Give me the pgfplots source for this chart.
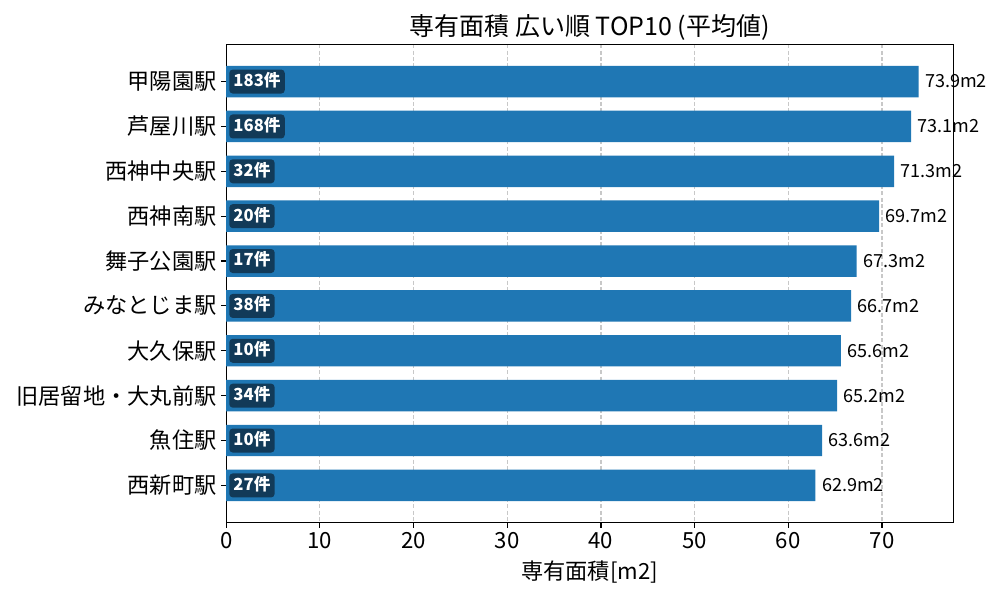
\documentclass[border=0pt]{standalone}
\usepackage{fontspec}
\setmainfont{Noto Sans CJK JP}
\usepackage{pgfplots}
\usepackage{pgfplotstable}
\pgfplotsset{compat=1.18}
\definecolor{barblue}{RGB}{31,119,180}
\definecolor{badgecol}{RGB}{18,58,88}
\definecolor{gridgray}{RGB}{200,200,200}
\pgfplotstableread{
y val cnt
0 73.9 183
1 73.1 168
2 71.3 32
3 69.7 20
4 67.3 17
5 66.7 38
6 65.6 10
7 65.2 34
8 63.6 10
9 62.9 27
}\data
\begin{document}
\begin{tikzpicture}
\useasboundingbox (0,0) rectangle (720pt,432pt);
\begin{axis}[
  at={(162.9pt,55.7pt)}, anchor=south west,
  scale only axis, width=523.4pt, height=344.4pt,
  xmin=0, xmax=77.6,
  ymin=-0.83, ymax=9.83, y dir=reverse,
  ytick={0,...,9},
  yticklabels={甲陽園駅,芦屋川駅,西神中央駅,西神南駅,舞子公園駅,みなとじま駅,大久保駅,旧居留地・大丸前駅,魚住駅,西新町駅},
  xtick={0,10,...,70},
  tick align=outside, major tick length=3.5pt,
  xtick pos=bottom, ytick pos=left,
  every tick/.style={black, line width=0.8pt},
  axis line style={line width=0.8pt},
  xmajorgrids, ymajorgrids=false,
  major grid style={gridgray, line width=0.8pt, dash pattern=on 3pt off 1.6pt},
  /pgf/number format/assume math mode=true,
  xticklabel style={font=\fontsize{16}{18}\selectfont},
  yticklabel style={font=\fontsize{16}{18}\selectfont},
  title={専有面積 広い順 TOP10 (平均値)},
  title style={font=\fontsize{18}{21}\selectfont, at={(0.5,1)}, anchor=base, yshift=0.5pt},
  xlabel={専有面積[m2]},
  xlabel style={font=\fontsize{16}{18}\selectfont, at={(0.5,0)}, anchor=base, yshift=-41pt},
  clip=false,
]
\addplot[xbar, bar width=0.7, fill=barblue, draw=none,
  point meta=x,
  nodes near coords={\pgfmathprintnumber[fixed,fixed zerofill,precision=1]{\pgfplotspointmeta}m2},
  every node near coord/.append style={anchor=west, inner sep=0pt, xshift=4.5pt, font=\fontsize{13}{15}\selectfont, black},
] table[x=val, y=y] {\data};
\addplot[draw=none, mark=none,
  point meta=explicit symbolic,
  nodes near coords={\pgfplotspointmeta 件},
  every node near coord/.append style={anchor=west, xshift=2pt, fill=badgecol, text=white, rounded corners=2.5pt,
    inner xsep=3pt, inner ysep=0pt, text height=8.5pt, text depth=1.5pt, minimum height=17.3pt,
    font=\fontsize{12}{14}\selectfont\bfseries},
] table[x expr=0, y=y, meta=cnt] {\data};
\end{axis}
\end{tikzpicture}
\end{document}
